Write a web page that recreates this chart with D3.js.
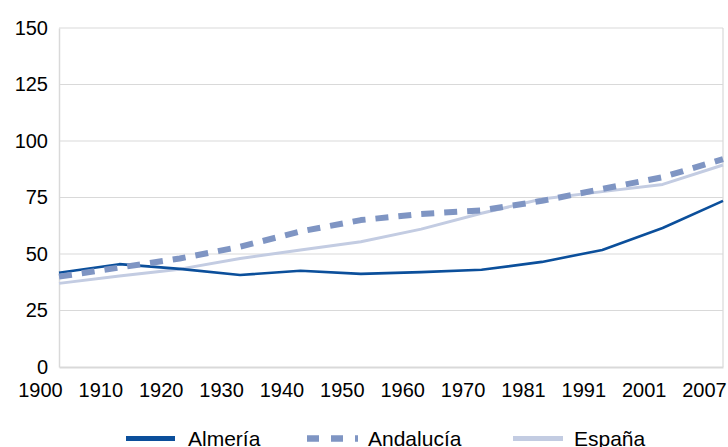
<!DOCTYPE html>
<html>
<head>
<meta charset="utf-8">
<script src="https://cdn.jsdelivr.net/npm/d3@7"></script>
<style>
  html, body { margin: 0; padding: 0; background: #ffffff; }
  svg { display: block; font-family: "Liberation Sans", Arial, sans-serif; }
</style>
</head>
<body>
<svg id="chart" width="728" height="447"></svg>
<script>
const years = ["1900","1910","1920","1930","1940","1950","1960","1970","1981","1991","2001","2007"];
const almeria   = [41.7, 45.5, 43.4, 40.7, 42.6, 41.2, 42.0, 43.0, 46.5, 51.8, 61.5, 73.5];
const andalucia = [40.0, 44.0, 48.0, 53.2, 60.0, 65.0, 67.7, 69.3, 73.5, 78.8, 84.0, 92.0];
const espana    = [37.0, 40.3, 43.3, 48.0, 51.8, 55.4, 61.0, 68.0, 74.3, 77.6, 80.8, 89.4];
const yTicks = [0, 25, 50, 75, 100, 125, 150];
const seriesNames = ["Almería", "Andalucía", "España"];

(function () {
const svg = d3.select("#chart");
const pLeft = 59, pRight = 723, pTop = 28, pBottom = 367;

const x = d3.scalePoint().domain(years).range([pLeft, pRight]);
const y = d3.scaleLinear().domain([0, 150]).range([pBottom, pTop]);

const grid = "#d9d9d9";

// gridlines
svg.append("g").selectAll("line").data(yTicks.filter(d => d > 0)).join("line")
  .attr("x1", pLeft).attr("x2", pRight)
  .attr("y1", d => y(d)).attr("y2", d => y(d))
  .attr("stroke", grid).attr("stroke-width", 1.2);

// right border
svg.append("line").attr("x1", pRight).attr("x2", pRight).attr("y1", pTop).attr("y2", pBottom)
  .attr("stroke", grid).attr("stroke-width", 1.2);

// y axis
const yAxis = svg.append("g").attr("transform", `translate(${pLeft},0)`)
  .call(d3.axisLeft(y).tickValues(yTicks).tickSize(0).tickPadding(11));
yAxis.select(".domain").attr("stroke", grid).attr("stroke-width", 1.5);
yAxis.selectAll("text").attr("font-size", 20).attr("fill", "#000")
  .attr("font-family", "'Liberation Sans', Arial, sans-serif");

// x axis
const xAxis = svg.append("g").attr("transform", `translate(0,${pBottom})`)
  .call(d3.axisBottom(x).tickSize(0).tickPadding(16));
xAxis.select(".domain").attr("stroke", grid).attr("stroke-width", 2);
xAxis.selectAll("text").attr("font-size", 20).attr("fill", "#000")
  .attr("dx", -19)
  .attr("font-family", "'Liberation Sans', Arial, sans-serif");

const styles = [
  { data: almeria,   color: "#0b4f9b", width: 2.6, dash: null },
  { data: andalucia, color: "#7f95c3", width: 6,   dash: "13,10" },
  { data: espana,    color: "#c3cce2", width: 3,   dash: null }
];

const line = d3.line().x((d, i) => x(years[i])).y(d => y(d));

[2, 0, 1].forEach(k => {
  const s = styles[k];
  svg.append("path").datum(s.data)
    .attr("fill", "none")
    .attr("stroke", s.color)
    .attr("stroke-width", s.width)
    .attr("stroke-dasharray", s.dash)
    .attr("stroke-linejoin", "round")
    .attr("d", line);
});

// legend
const legendItems = [
  { x1: 126, x2: 175, tx: 188, w: 5, dash: null },
  { x1: 307, x2: 358, tx: 368, w: 6.5, dash: "12,12" },
  { x1: 513, x2: 563, tx: 574, w: 5, dash: null }
];
const legY = 438.5;
legendItems.forEach((it, i) => {
  svg.append("line").attr("x1", it.x1).attr("x2", it.x2).attr("y1", legY).attr("y2", legY)
    .attr("stroke", styles[i].color).attr("stroke-width", it.w)
    .attr("stroke-dasharray", it.dash);
  svg.append("text").attr("x", it.tx).attr("y", legY + 7.5)
    .attr("font-size", 21).attr("fill", "#000")
    .text(seriesNames[i]);
});
})();
</script>
</body>
</html>
